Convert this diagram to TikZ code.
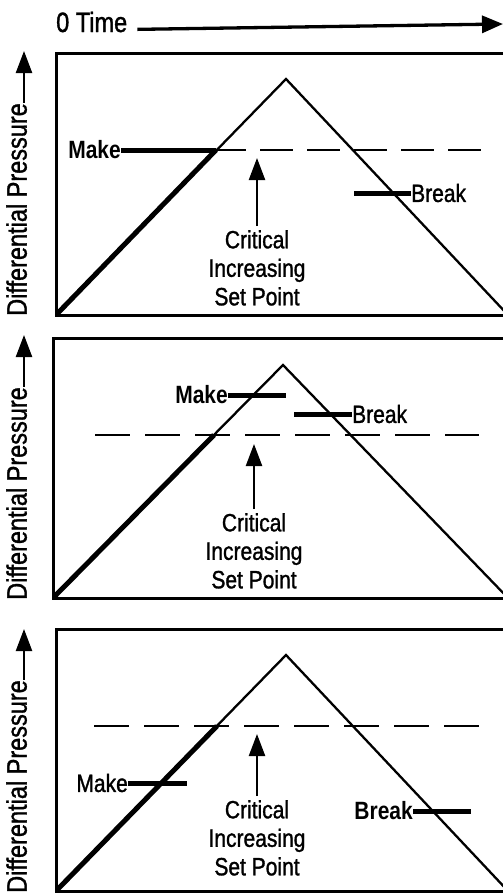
\documentclass[tikz,border=0pt]{standalone}
\usepackage{fontspec}
\setmainfont{Liberation Sans}[FakeStretch=0.84, UprightFeatures={FakeBold=1.2}]
\usetikzlibrary{arrows.meta}
\tikzset{
  panelbox/.style={line width=3pt},
  ramp/.style={line width=2.3pt},
  heldline/.style={line width=5pt},
  setline/.style={line width=2.3pt, dash pattern=on 35pt off 15pt},
  uparrow/.style={line width=2.3pt, -{Triangle[length=22pt,width=16pt]}},
  axisarrow/.style={line width=3.3pt, -{Triangle[length=21pt,width=17pt]}},
  tag/.style={font=\fontsize{25}{28.5}\selectfont, inner sep=0pt},
  boldtag/.style={font=\fontsize{25}{28.5}\selectfont\bfseries, inner sep=0pt},
  setpt/.style={tag, align=center, anchor=north, inner ysep=4pt},
  axis/.style={font=\fontsize{28}{30}\selectfont, inner sep=0pt},
}

\begin{document}
\begin{tikzpicture}[x=1pt,y=-1pt]
  \useasboundingbox (0,0) rectangle (503,894);

  % Time axis
  \node[axis, anchor=base west] (time) at (56,32) {0 Time};
  \coordinate (tend) at (503,24);
  \draw[axisarrow] ([xshift=10pt]time.mid east) -- (tend);

  % Panel 1
  \coordinate (bl1) at (56,315);
  \coordinate (top1) at (286,79);
  \coordinate (br1) at (508,315);
  \coordinate (cross1) at (216,150);
  \coordinate (dend1) at (482,150);
  \begin{scope}
    \clip (56,53) rectangle (504,315);
    \draw[setline, dash pattern=on 33pt off 14pt, dash phase=3pt] (cross1) -- (dend1);
    \draw[ramp] (bl1) -- (top1) -- (br1);
    \draw[heldline] (bl1) -- (cross1);
  \end{scope}
  \draw[panelbox] (56,53) rectangle (504,315);
  \node[boldtag, anchor=east] (make1) at (121,150) {Make};
  \draw[heldline] (make1.east) -- (cross1);
  \node[tag, anchor=west] (break1) at (411,193) {Break};
  \coordinate (bk1) at (354,193);
  \draw[heldline] (bk1) -- (break1.west);
  \node[setpt] (csp1) at (257,226) {Critical\\Increasing\\Set Point};
  \coordinate (tip1) at (257,158);
  \draw[uparrow] (csp1.north) -- (tip1);
  \node[axis, rotate=90, anchor=mid west] (dp1) at (24,316) {Differential Pressure};
  \coordinate (ptip1) at (24,51);
  \draw[uparrow] (dp1.mid east) -- (ptip1);

  % Panel 2
  \coordinate (bl2) at (53,598);
  \coordinate (top2) at (283,365);
  \coordinate (br2) at (508,598);
  \coordinate (cross2) at (214,435);
  \coordinate (dbeg2) at (95,435);
  \coordinate (dend2) at (479,435);
  \begin{scope}
    \clip (53,338) rectangle (504,598);
    \draw[setline] (dbeg2) -- (dend2);
    \draw[ramp] (bl2) -- (top2) -- (br2);
    \draw[heldline] (bl2) -- (cross2);
  \end{scope}
  \draw[panelbox] (53,338) rectangle (504,598);
  \node[boldtag, anchor=east] (make2) at (228,395) {Make};
  \coordinate (mk2) at (286,395);
  \draw[heldline] (make2.east) -- (mk2);
  \node[tag, anchor=west] (break2) at (352,414) {Break};
  \coordinate (bk2) at (294,414);
  \draw[heldline] (bk2) -- (break2.west);
  \node[setpt] (csp2) at (254,509) {Critical\\Increasing\\Set Point};
  \coordinate (tip2) at (254,444);
  \draw[uparrow] (csp2.north) -- (tip2);
  \node[axis, rotate=90, anchor=mid west] (dp2) at (24,600) {Differential Pressure};
  \coordinate (ptip2) at (24,335);
  \draw[uparrow] (dp2.mid east) -- (ptip2);

  % Panel 3
  \coordinate (bl3) at (56,891);
  \coordinate (top3) at (286,655);
  \coordinate (br3) at (508,891);
  \coordinate (cross3) at (217,726);
  \coordinate (dbeg3) at (94,726);
  \coordinate (dend3) at (482,726);
  \begin{scope}
    \clip (56,629) rectangle (504,891);
    \draw[setline] (dbeg3) -- (dend3);
    \draw[ramp] (bl3) -- (top3) -- (br3);
    \draw[heldline] (bl3) -- (cross3);
  \end{scope}
  \draw[panelbox] (56,629) rectangle (504,891);
  \node[tag, anchor=east] (make3) at (128,783) {Make};
  \coordinate (mk3) at (187,783);
  \draw[heldline] (make3.east) -- (mk3);
  \node[boldtag, anchor=east] (break3) at (413,811) {Break};
  \coordinate (bk3) at (471,811);
  \draw[heldline] (break3.east) -- (bk3);
  \node[setpt] (csp3) at (257,796) {Critical\\Increasing\\Set Point};
  \coordinate (tip3) at (257,734);
  \draw[uparrow] (csp3.north) -- (tip3);
  \node[axis, rotate=90, anchor=mid west] (dp3) at (24,893) {Differential Pressure};
  \coordinate (ptip3) at (24,629);
  \draw[uparrow] (dp3.mid east) -- (ptip3);
\end{tikzpicture}
\end{document}
